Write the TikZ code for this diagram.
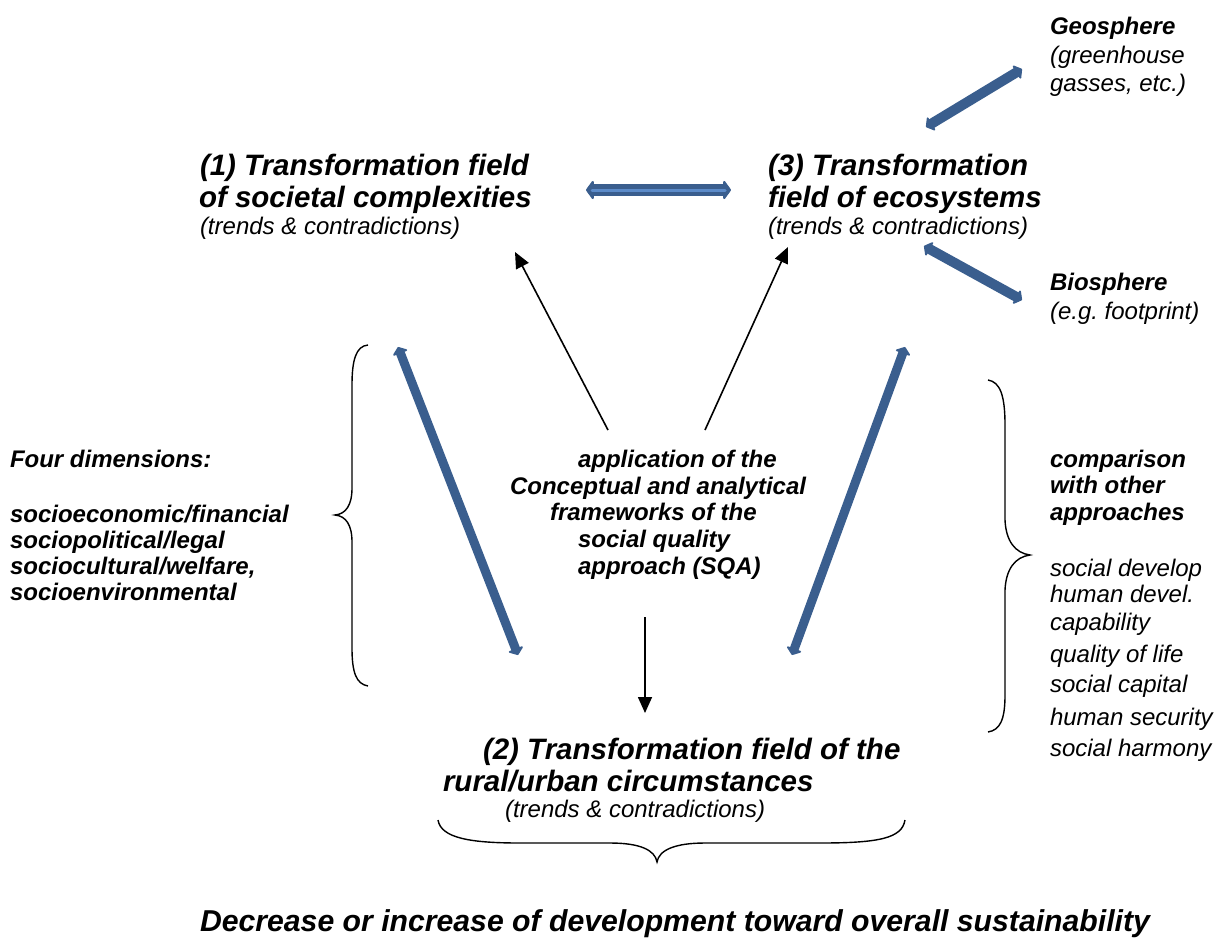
\documentclass[tikz,border=0pt]{standalone}
\usepackage{fontspec}
\setmainfont{Liberation Sans}
\usetikzlibrary{arrows.meta}
\frenchspacing
\definecolor{arrowblue}{HTML}{3A5E8E}
\definecolor{arrowlight}{HTML}{5C8BC9}
\tikzset{
  txt/.style={anchor=base west, inner sep=0pt, outer sep=0pt},
  big/.style={txt, font=\fontsize{29.5}{33}\selectfont\bfseries\itshape},
  huge/.style={txt, font=\fontsize{30.2}{34}\selectfont\bfseries\itshape},
  mid/.style={txt, font=\fontsize{24}{28}\selectfont\bfseries\itshape},
  small/.style={txt, font=\fontsize{24}{28}\selectfont\itshape},
  bluearrow/.style={draw=arrowblue, line width=10pt, line cap=round,
     {Triangle[width=18pt,length=7pt,round,fill=arrowblue]}-{Triangle[width=18pt,length=7pt,round,fill=arrowblue]}},
  blackarrow/.style={draw=black, line width=1.6pt, -{Triangle[width=14pt,length=16pt]}},
  bracepath/.style={draw=black, line width=1.4pt},
}
\begin{document}
\begin{tikzpicture}[x=1pt,y=-1pt]
\useasboundingbox (0,0) rectangle (1222,937);
\fill[white] (0,0) rectangle (1222,937);

% ---------- texts ----------
\node[big] (t1a) at (200,175) {(1) Transformation field};
\node[big] (t1b) at (199,207) {of societal complexities};
\node[small] (t1c) at (200,234) {(trends \& contradictions)};

\node[big] (t3a) at (768,175) {(3) Transformation};
\node[big] (t3b) at (768,207) {field of ecosystems};
\node[small] (t3c) at (768,234) {(trends \& contradictions)};

\node[big] (t2a) at (483,759) {(2) Transformation field of the};
\node[big] (t2b) at (443,791) {rural/urban circumstances};
\node[small] (t2c) at (505,817) {(trends \& contradictions)};

\node[mid] (geoa) at (1050,34) {Geosphere};
\node[small] (geob) at (1050,63) {(greenhouse};
\node[small] (geoc) at (1050,91) {gasses, etc.)};

\node[mid] (bioa) at (1050,290) {Biosphere};
\node[small] (biob) at (1050,319) {(e.g. footprint)};

\node[mid] (fd0) at (10,467) {Four dimensions:};
\node[mid] (fd1) at (10,522) {socioeconomic/financial};
\node[mid] (fd2) at (10,548) {sociopolitical/legal};
\node[mid] (fd3) at (10,574) {sociocultural/welfare,};
\node[mid] (fd4) at (10,600) {socioenvironmental};

\node[mid] (c1) at (578,467) {application of the};
\node[mid] (c2) at (510,494) {Conceptual and analytical};
\node[mid] (c3) at (550,520) {frameworks of the};
\node[mid] (c4) at (578,547) {social quality};
\node[mid] (c5) at (578,574) {approach (SQA)};

\node[mid] (r1) at (1050,467) {comparison};
\node[mid] (r2) at (1050,493) {with other};
\node[mid] (r3) at (1050,520) {approaches};
\node[small] (r4) at (1050,576) {social develop};
\node[small] (r5) at (1050,602) {human devel.};
\node[small] (r6) at (1050,630) {capability};
\node[small] (r7) at (1050,662) {quality of life};
\node[small] (r8) at (1050,692) {social capital};
\node[small] (r9) at (1050,725) {human security};
\node[small] (r10) at (1050,756) {social harmony};

\node[huge] (bottom) at (200,931) {Decrease or increase of development toward overall sustainability};

% ---------- connector end points ----------
\coordinate (h1) at (586,190);
\coordinate (h2) at (731,190);
\coordinate (g1) at (926,127);
\coordinate (g2) at (1022,69);
\coordinate (b1) at (924,246);
\coordinate (b2) at (1022,300);
\coordinate (l1) at (398,347);
\coordinate (l2) at (518,655);
\coordinate (rr1) at (905,347);
\coordinate (rr2) at (792,655);
\coordinate (k1s) at (608,430);
\coordinate (k1e) at (515,252);
\coordinate (k2s) at (705,430);
\coordinate (k2e) at (788,247);
\coordinate (k3s) at (645,617);
\coordinate (k3e) at (645,713);

% ---------- blue double arrows ----------
\draw[bluearrow, line width=12pt,
  {Triangle[width=22pt,length=8pt,round,fill=arrowblue]}-{Triangle[width=22pt,length=8pt,round,fill=arrowblue]}] (h1) -- (h2);
\draw[arrowlight, line width=3pt, line cap=round] ([xshift=6pt]h1) -- ([xshift=-6pt]h2);
\draw[bluearrow] (g1) -- (g2);
\draw[bluearrow] (b1) -- (b2);
\draw[bluearrow, line width=9pt] (l1) -- (l2);
\draw[bluearrow, line width=9pt] (rr1) -- (rr2);

% ---------- black arrows ----------
\draw[blackarrow] (k1s) -- (k1e);
\draw[blackarrow] (k2s) -- (k2e);
\draw[blackarrow] (k3s) -- (k3e);

% ---------- braces ----------
\draw[bracepath] (368,345) .. controls (356,346) and (352,360) .. (352,385)
  -- (352,488) .. controls (352,505) and (346,514) .. (335,515)
  .. controls (346,516) and (352,525) .. (352,542)
  -- (352,648) .. controls (352,672) and (356,684) .. (368,686);

\draw[bracepath] (988,380) .. controls (1000,382) and (1005,395) .. (1005,425)
  -- (1005,520) .. controls (1006,541) and (1015,553) .. (1030,555)
  .. controls (1015,557) and (1006,569) .. (1005,590)
  -- (1005,695) .. controls (1005,720) and (1000,730) .. (988,732);

\draw[bracepath] (438,820) .. controls (441,838) and (470,843) .. (520,843)
  -- (610,843) .. controls (640,843) and (655,850) .. (657,862)
  .. controls (659,850) and (675,843) .. (705,843)
  -- (820,843) .. controls (880,843) and (902,838) .. (905,820);
\end{tikzpicture}
\end{document}
